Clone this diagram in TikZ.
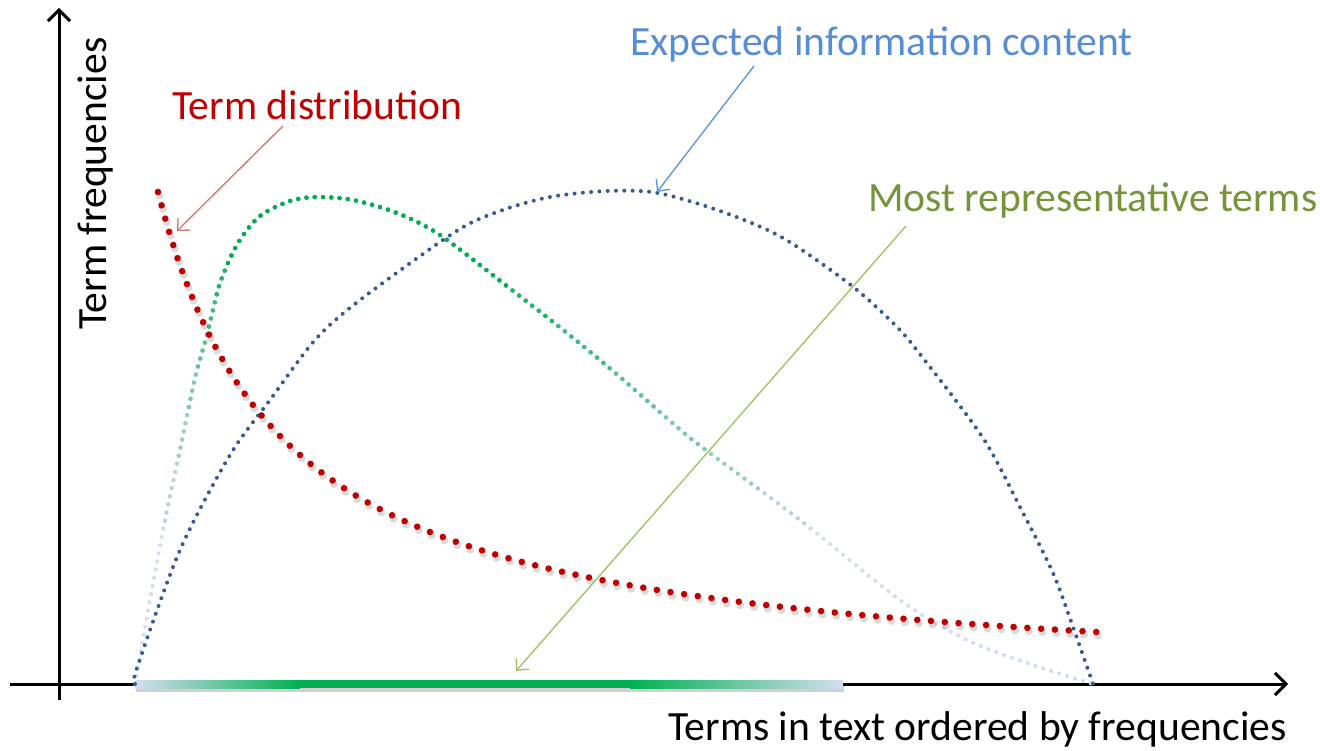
\documentclass[tikz,border=0pt]{standalone}
\usepackage{fontspec}
\setmainfont{Carlito}
\usetikzlibrary{arrows.meta}

\definecolor{tdred}{HTML}{C00000}
\definecolor{dotblue}{HTML}{375A91}
\definecolor{labblue}{HTML}{558ED5}
\definecolor{labgreen}{HTML}{77933C}
\definecolor{repgreen}{HTML}{00B050}
\definecolor{paleblue}{HTML}{D3DEF0}
\definecolor{arrred}{HTML}{D07575}
\definecolor{arrblue}{HTML}{5B93D8}
\definecolor{arrgreen}{HTML}{A0C060}

% weight curve, shared by every colour layer so the dots coincide
\def\weightcurve{plot[smooth] coordinates {(135,684) (150,600) (165,520) (180,450) (195,378)
  (207,335) (220,283) (238,243) (260,216) (290,201) (317,197) (353,200) (397,213) (440,235)
  (508,287) (567,333) (620,377) (677,427) (703,448) (800,520) (900,600) (967,640) (1033,665) (1093,684)}}

\begin{document}
\begin{tikzpicture}[x=1pt,y=-1pt,
  lab/.style={font=\fontsize{41.6}{50}\selectfont, inner sep=0pt, anchor=base west},
  axisline/.style={line width=3pt, -{Straight Barb[length=11pt,width=22pt]}},
  pointer/.style={line width=1.3pt, -{Straight Barb[length=9pt,width=17pt]}},
  reddots/.style={tdred, line width=6.6pt, line cap=round, dash pattern=on 0pt off 13.8pt},
  redshadow/.style={black, opacity=0.14, line width=8pt, line cap=round, dash pattern=on 0pt off 13.8pt},
  bluedots/.style={dotblue, line width=4pt, line cap=round, dash pattern=on 0pt off 8.3pt},
  greendots/.style={line width=4.2pt, line cap=round, dash pattern=on 0pt off 8.3pt},
]
\useasboundingbox (0,0) rectangle (1320,751);

% axes
\coordinate (ybot) at (59,700);
\coordinate (ytop) at (59,8);
\coordinate (xleft) at (10,684);
\coordinate (xright) at (1288,684);
\draw[axisline] (ybot) -- (ytop);
\draw[axisline] (xleft) -- (xright);

% band of the most representative terms on the x axis
\fill[black, opacity=0.18] (136,686) rectangle (844,692);
\shade[left color=paleblue, right color=repgreen] (135,680) rectangle (300,688);
\fill[repgreen] (299.5,680) rectangle (630.5,688);
\shade[left color=repgreen, right color=paleblue] (630,680) rectangle (843,688);

% weight curve: pale at both ends, green around its top
\draw[greendots, paleblue] \weightcurve;
\foreach \pc/\ylim/\xlim in {14/528/810, 28/463/761, 43/410/708, 57/368/659,
                             71/333/610, 86/297/557, 100/267/508} {
  \begin{scope}
    \clip (0,0) -- (\xlim,0) -- (\xlim,751) -- (300,751) -- (300,\ylim) -- (0,\ylim) -- cycle;
    \draw[greendots, repgreen!\pc!paleblue] \weightcurve;
  \end{scope}
}

% expected information content
\draw[bluedots] plot[smooth] coordinates {(135,684) (137,668) (180,550) (230,455) (270,400)
  (315,340) (360,300) (455,232) (500,211) (550,197) (607,191) (658,193) (723,212) (783,238)
  (852,286) (897,327) (923,358) (983,438) (1020,507) (1053,573) (1073,627) (1093,684)};

% term distribution
\draw[redshadow, shift={(1.5,3.5)}] plot[domain=158:1100, samples=150] (\x, {692 - 640/(\x/100-0.3)});
\draw[reddots] plot[domain=158:1100, samples=150] (\x, {692 - 640/(\x/100-0.3)});

% labels
\node[lab, tdred] (tdist) at (172,120) {Term distribution};
\node[lab, labblue] (expinfo) at (630,56) {Expected information content};
\node[lab, labgreen] (mostrep) at (868,212) {Most representative terms};
\node[lab, rotate=90] (yname) at (106,330) {Term frequencies};
\node[lab] (xname) at (668,740) {Terms in text ordered by frequencies};

% pointers
\coordinate (tdtail) at (283,126);
\coordinate (tdtip) at (177,231);
\coordinate (eitail) at (754,66);
\coordinate (eitip) at (657,192);
\coordinate (mrtail) at (906,226);
\coordinate (mrtip) at (516,671);
\draw[pointer, arrred] (tdtail) -- (tdtip);
\draw[pointer, arrblue] (eitail) -- (eitip);
\draw[pointer, arrgreen] (mrtail) -- (mrtip);
\end{tikzpicture}
\end{document}
